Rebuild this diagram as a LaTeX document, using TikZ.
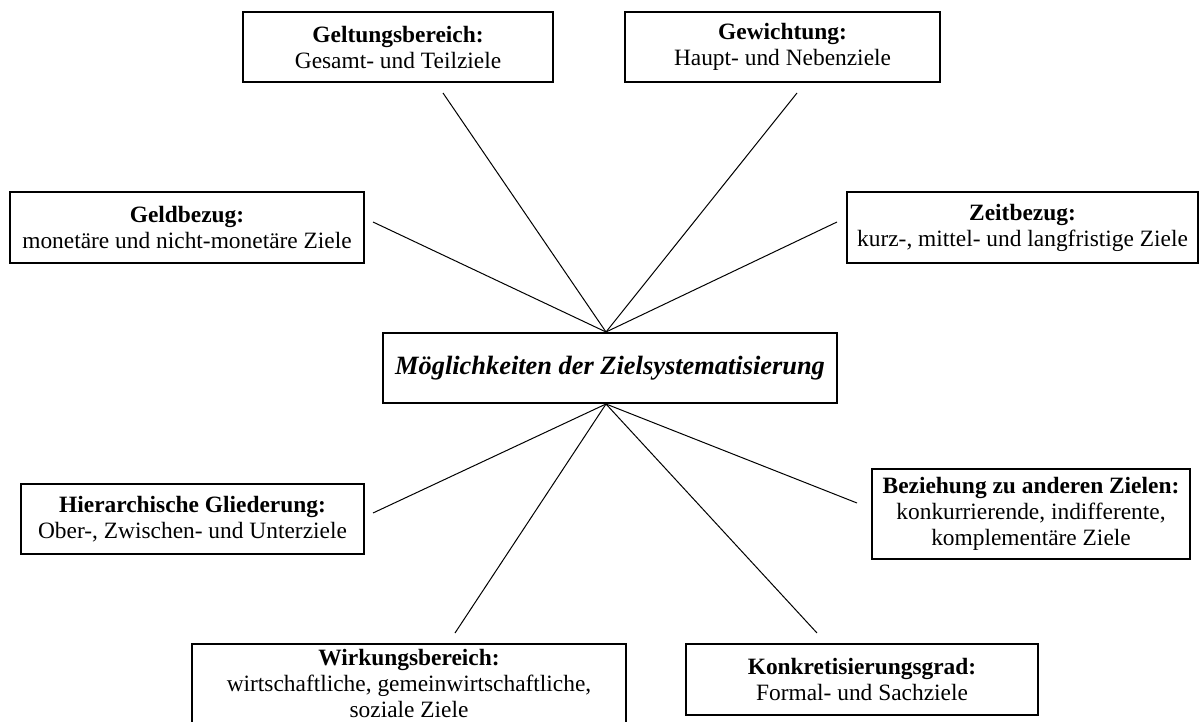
\documentclass[tikz,border=0pt]{standalone}
\usepackage{fontspec}
\setmainfont{Liberation Serif}
\begin{document}
\begin{tikzpicture}[x=0.5pt,y=-0.5pt,
  box/.style={draw, line width=1pt, inner sep=0pt, align=center,
    font=\fontsize{11.7}{13}\selectfont},
  hub/.style={draw, line width=1pt, inner sep=0pt, align=center,
    font=\fontsize{13.2}{16}\selectfont\bfseries\itshape},
  link/.style={line width=0.5pt}]
\useasboundingbox (0,0) rectangle (1200,722);

% central node
\node[hub, minimum width=227pt, minimum height=35pt] (ziel) at (610,368)
  {Möglichkeiten der Zielsystematisierung};

% upper criteria
\node[box, minimum width=155pt, minimum height=35pt] (gelt) at (398,47)
  {\textbf{Geltungsbereich:}\\Gesamt- und Teilziele};
\node[box, minimum width=157.5pt, minimum height=35pt] (gew) at (782.5,47)
  {\textbf{Gewichtung:}\\Haupt- und Nebenziele};
\node[box, minimum width=177pt, minimum height=35.5pt] (geld) at (187,227.5)
  {\textbf{Geldbezug:}\\monetäre und nicht-monetäre Ziele};
\node[box, minimum width=175.5pt, minimum height=35.5pt] (zeit) at (1022.5,227.5)
  {\textbf{Zeitbezug:}\\kurz-, mittel- und langfristige Ziele};

% lower criteria
\node[box, minimum width=171.5pt, minimum height=35pt] (hier) at (192.5,519)
  {\textbf{Hierarchische Gliederung:}\\Ober-, Zwischen- und Unterziele};
\node[box, minimum width=159pt, minimum height=45pt] (bez) at (1031,514)
  {\textbf{Beziehung zu anderen Zielen:}\\konkurrierende, indifferente,\\komplementäre Ziele};
% the lines of this box sit a little above its middle
\node[box, minimum width=217pt, minimum height=45pt, text depth=6pt] (wirk) at (409,689)
  {\textbf{Wirkungsbereich:}\\wirtschaftliche, gemeinwirtschaftliche,\\soziale Ziele};
\node[box, minimum width=176pt, minimum height=35.5pt] (konk) at (862,679.5)
  {\textbf{Konkretisierungsgrad:}\\Formal- und Sachziele};

% free ends of the connectors, just off each box
\coordinate (gelt-end) at (443,93);
\coordinate (gew-end)  at (797,93);
\coordinate (geld-end) at (373,222);
\coordinate (zeit-end) at (837,222);
\coordinate (hier-end) at (373,513);
\coordinate (bez-end)  at (857,503);
\coordinate (wirk-end) at (455,633);
\coordinate (konk-end) at (817,633);

% connectors meeting at the central node
\foreach \e in {gelt-end,gew-end,geld-end,zeit-end}
  \draw[link] (\e) -- ([xshift=-2pt]ziel.north);
\foreach \e in {hier-end,bez-end,wirk-end,konk-end}
  \draw[link] ([xshift=-2pt]ziel.south) -- (\e);
\end{tikzpicture}
\end{document}
